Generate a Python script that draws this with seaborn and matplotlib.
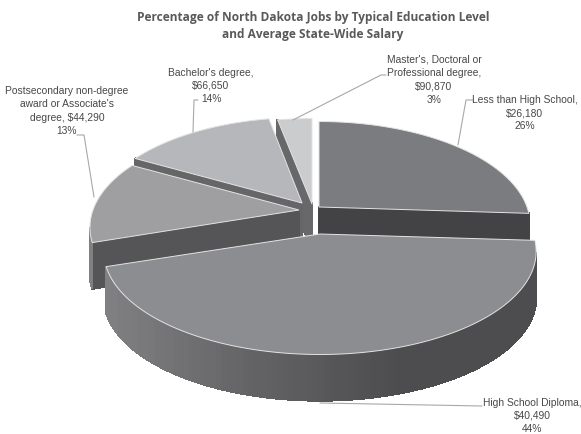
import numpy as np
import seaborn as sns
import matplotlib.pyplot as plt

# data
levels = ["Less than High School,\n$26,180\n26%",
          "High School Diploma,\n$40,490\n44%",
          "Postsecondary non-degree\naward or Associate's\ndegree, $44,290\n13%",
          "Bachelor's degree,\n$66,650\n14%",
          "Master's, Doctoral or\nProfessional degree,\n$90,870\n3%"]
shares = [26, 44, 13, 14, 3]

top_colors = ["#7b7c7f", "#8c8d90", "#9f9fa2", "#b6b7ba", "#cbcccd"]
cut_colors = ["#434345", "#555557", "#555557", "#666668", "#68686a"]
draw_order = [4, 3, 0, 2, 1]

# where each label sits (px)
label_x = [525, 532, 67, 211, 434]
label_y = [113, 416, 111, 86, 80]

# leader lines (px)
leader_x = [[473, 466, 458], [482, 320], [77, 84, 94], [198, 194, 193], [386, 381, 293]]
leader_y = [[101, 101, 146], [407, 404], [136, 136, 198], [101, 101, 133], [76, 76, 121]]

# projection of the pie plane onto the page
center_x, center_y = 309, 218
radius_x = [208, 213, 206, 206, 214]
radius_y = 100
persp = 0.17
depth = 46
apex_dx = [10, 11, -10, -7, 3]
apex_dy = [-10, 17, -7, -14, -13]

sns.set_theme(style="white")
plt.rcParams["font.family"] = ["Liberation Sans", "DejaVu Sans"]

fig, ax = plt.subplots(figsize=(5.81, 4.35), dpi=100)
fig.subplots_adjust(0, 0, 1, 1)

# the pie gives the angles, the wedges are then redrawn in perspective
wedges, _ = ax.pie(shares, startangle=90, counterclock=False)
angles = [(w.theta1, w.theta2) for w in wedges]
for w in wedges:
    w.remove()

ax.set_aspect("auto")
ax.set_xlim(0, 581)
ax.set_ylim(435, 0)
ax.axis("off")

wall_pal = sns.blend_palette(["#808083", "#636365", "#4d4d4f", "#4d4d4f"], 64)


def project(x, y, i):
    w = 1 + persp * y
    return (center_x + apex_dx[i] + radius_x[i] * x / w,
            center_y + apex_dy[i] - radius_y * y / w)


def wall_color(px):
    pos = int(np.clip((px - 105) / 435, 0, 1) * 63)
    return wall_pal[pos]


def side(p, q, color, zorder):
    # only faces running left to right on the page look at the viewer
    if q[0] <= p[0]:
        return
    ax.fill([p[0], q[0], q[0], p[0]],
            [p[1], q[1], q[1] + depth, p[1] + depth],
            color=color, lw=1.0, antialiased=False, zorder=zorder)


for z, i in enumerate(draw_order):
    zorder = 2 + z
    t1, t2 = np.radians(angles[i])
    ts = np.linspace(t1, t2, 120)
    xs, ys = project(np.cos(ts), np.sin(ts), i)
    apex = project(0, 0, i)

    side(apex, (xs[0], ys[0]), cut_colors[i], zorder)
    side((xs[-1], ys[-1]), apex, cut_colors[i], zorder)
    for j in range(len(ts) - 1):
        side((xs[j], ys[j]), (xs[j + 1], ys[j + 1]),
             wall_color((xs[j] + xs[j + 1]) / 2), zorder)

    ax.fill(np.r_[apex[0], xs], np.r_[apex[1], ys], facecolor=top_colors[i],
            edgecolor="#e4e4e4", lw=0.7, joinstyle="round", zorder=zorder)

for lx, ly in zip(leader_x, leader_y):
    ax.plot(lx, ly, color="#a8a8a8", lw=0.8, zorder=1 if lx[0] == 482 else 8)

for text, tx, ty in zip(levels, label_x, label_y):
    ax.text(tx, ty, text, ha="center", va="center", fontsize=7.4,
            color="#484848", linespacing=1.42, zorder=9)

ax.text(313, 26, "Percentage of North Dakota Jobs by Typical Education Level\n"
        "and Average State-Wide Salary", ha="center", va="center",
        fontsize=8.6, fontweight="bold", color="#595959", family="Open Sans",
        linespacing=1.42)

fig.savefig("out.png", dpi=100)
